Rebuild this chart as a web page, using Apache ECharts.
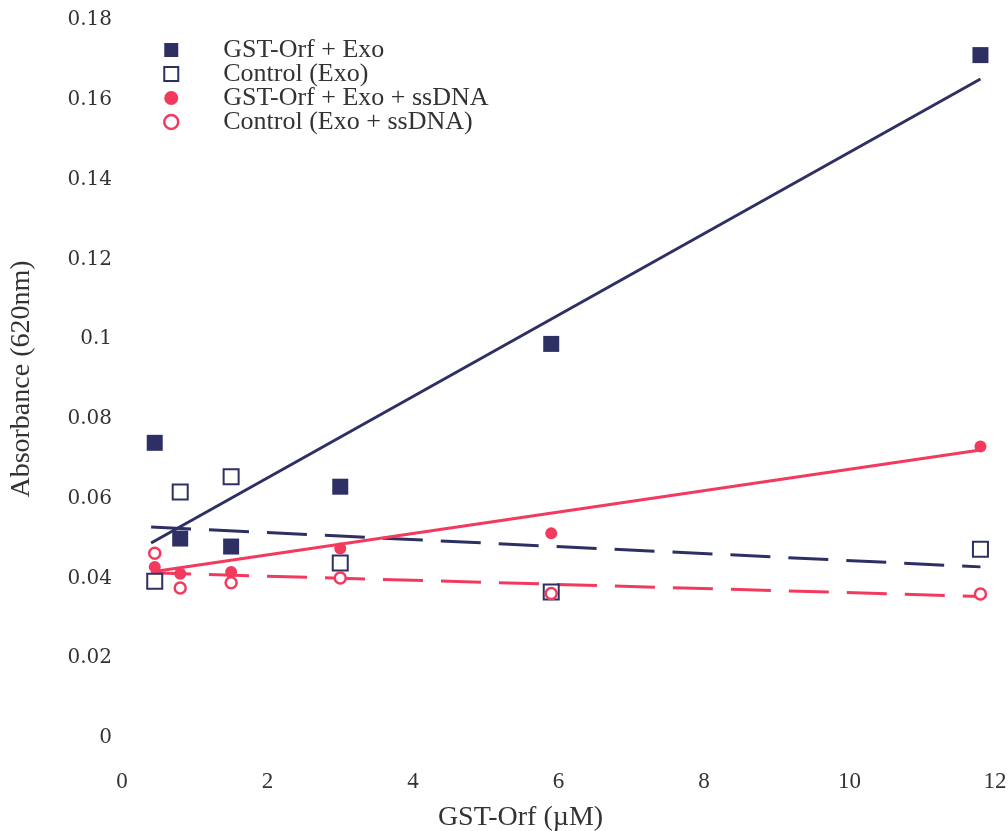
<!DOCTYPE html>
<html>
<head>
<meta charset="utf-8">
<script src="https://cdn.jsdelivr.net/npm/echarts@6/dist/echarts.min.js"></script>
<style>
html,body{margin:0;padding:0;background:#fff;}
#chart{width:1008px;height:831px;}
</style>
</head>
<body>
<div id="chart"></div>
<script>
// Concentrations of GST-Orf (µM)
const xValues = [0.45, 0.8, 1.5, 3.0, 5.9, 11.8];
// Absorbance values
const gstExo = [0.0740, 0.0500, 0.0480, 0.0630, 0.0988, 0.1712];
const controlExo = [0.0393, 0.0617, 0.0655, 0.0439, 0.0366, 0.0473];
const gstExoSs = [0.0429, 0.0412, 0.0416, 0.0475, 0.0513, 0.0731];
const controlExoSs = [0.0463, 0.0376, 0.0389, 0.0401, 0.0362, 0.0361];
// Trend lines (end points)
const fitX = [0.4, 11.8];
const fitGstExo = [0.0489, 0.1652];
const fitControlExo = [0.0529, 0.0429];
const fitGstExoSs = [0.0416, 0.0722];
const fitControlExoSs = [0.0414, 0.0355];
// Axis ticks
const xTicks = [0, 2, 4, 6, 8, 10, 12];
const yTicks = [0, 0.02, 0.04, 0.06, 0.08, 0.1, 0.12, 0.14, 0.16, 0.18];
const seriesNames = ['GST-Orf + Exo', 'Control (Exo)', 'GST-Orf + Exo + ssDNA', 'Control (Exo + ssDNA)'];

const NAVY = '#2e3064';
const RED = '#f23a5f';
const pairs = (xs, ys) => xs.map((x, i) => [x, ys[i]]);

const chart = echarts.init(document.getElementById('chart'), null, {renderer: 'canvas'});
chart.setOption({
  animation: false,
  backgroundColor: '#ffffff',
  grid: {left: 122, right: 13, top: 20, bottom: 93, containLabel: false, outerBoundsMode: 'none'},
  xAxis: {
    type: 'value', min: xTicks[0], max: xTicks[xTicks.length - 1], interval: 2,
    axisLine: {show: false}, axisTick: {show: false}, splitLine: {show: false},
    axisLabel: {margin: 32, fontFamily: 'Liberation Serif', fontSize: 23, color: '#333'},
    name: 'GST-Orf (\u00b5M)', nameLocation: 'middle', nameGap: 66,
    nameTextStyle: {fontFamily: 'Liberation Serif', fontSize: 28, color: '#333', padding: [0, 76, 0, 0]}
  },
  yAxis: {
    type: 'value', min: yTicks[0], max: yTicks[yTicks.length - 1], interval: 0.02,
    axisLine: {show: false}, axisTick: {show: false}, splitLine: {show: false},
    axisLabel: {margin: 10, fontFamily: 'DejaVu Serif', fontSize: 20, color: '#333',
      formatter: v => String(Math.round(v * 100) / 100)},
    name: 'Absorbance (620nm)', nameLocation: 'middle', nameGap: 86,
    nameTextStyle: {fontFamily: 'Liberation Serif', fontSize: 28, color: '#333'}
  },
  legend: {
    orient: 'vertical', left: 158, top: 32, itemGap: -2, itemWidth: 14, itemHeight: 14,
    textStyle: {fontFamily: 'Liberation Serif', fontSize: 26, color: '#333', padding: [0, 0, 0, 40]},
    data: [
      {name: seriesNames[0], icon: 'rect', itemStyle: {color: NAVY}},
      {name: seriesNames[1], icon: 'rect', itemStyle: {color: '#fff', borderColor: NAVY, borderWidth: 2}},
      {name: seriesNames[2], icon: 'circle', itemStyle: {color: RED}},
      {name: seriesNames[3], icon: 'circle', itemStyle: {color: '#fff', borderColor: RED, borderWidth: 2.5}}
    ]
  },
  series: [
    {type: 'line', name: 'fit1', data: pairs(fitX, fitGstExo), showSymbol: false, silent: true, z: 1,
      lineStyle: {color: NAVY, width: 3}},
    {type: 'line', name: 'fit2', data: pairs(fitX, fitControlExo), showSymbol: false, silent: true, z: 1,
      lineStyle: {color: NAVY, width: 3, type: [40, 18]}},
    {type: 'line', name: 'fit3', data: pairs(fitX, fitGstExoSs), showSymbol: false, silent: true, z: 1,
      lineStyle: {color: RED, width: 3}},
    {type: 'line', name: 'fit4', data: pairs(fitX, fitControlExoSs), showSymbol: false, silent: true, z: 1,
      lineStyle: {color: RED, width: 3, type: [40, 18]}},
    {type: 'scatter', name: seriesNames[0], data: pairs(xValues, gstExo), symbol: 'rect', symbolSize: 16, z: 3,
      itemStyle: {color: NAVY, opacity: 1}},
    {type: 'scatter', name: seriesNames[1], data: pairs(xValues, controlExo), symbol: 'rect', symbolSize: 15, z: 3,
      itemStyle: {color: '#fff', borderColor: NAVY, borderWidth: 2, opacity: 1}},
    {type: 'scatter', name: seriesNames[2], data: pairs(xValues, gstExoSs), symbol: 'circle', symbolSize: 12, z: 4,
      itemStyle: {color: RED, opacity: 1}},
    {type: 'scatter', name: seriesNames[3], data: pairs(xValues, controlExoSs), symbol: 'circle', symbolSize: 11, z: 4,
      itemStyle: {color: '#fff', borderColor: RED, borderWidth: 2.5, opacity: 1}}
  ]
});
</script>
</body>
</html>
